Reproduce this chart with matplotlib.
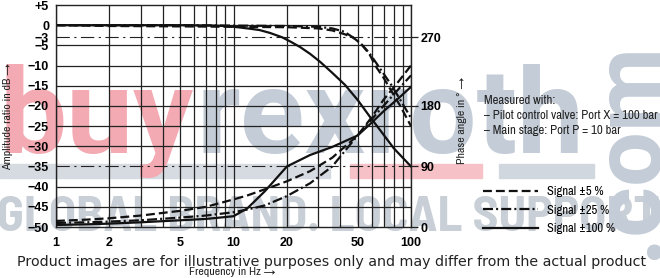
import matplotlib
matplotlib.use('Agg')
import matplotlib.pyplot as plt
import numpy as np
from matplotlib.ticker import NullFormatter

NARROW = 'Archivo Narrow'
WM_FONT = 'Roboto'
WM_FONT2 = 'Barlow Semi Condensed'
BOLD = 'Liberation Sans'

# amplitude curves (dB)
AMP_FREQ = [1, 2, 5, 10, 20, 30, 36, 42, 47, 52, 58, 64, 70, 78, 87, 100]
AMP_5 = [0, -0.2, -0.3, -0.4, -0.5, -0.8, -1.3, -2.2, -3, -4.5, -7, -10.5, -13, -16.5, -20, -25]
AMP_25 = [0, 0, 0, -0.1, -0.2, -0.4, -0.8, -1.6, -3, -4.5, -6.8, -9.5, -12, -15, -18.5, -23]
AMP_FREQ_100 = [1, 5, 8, 9.5, 11, 12.5, 14, 16, 18.8, 21, 23.7, 27, 30.8, 36, 42.5, 50, 58.7, 67, 80, 100]
AMP_100 = [0, 0, -0.1, -0.3, -0.6, -0.9, -1.2, -1.9, -3, -4.1, -5.4, -7.1, -9.1, -11.8, -14.8,
           -18.5, -22.7, -26, -30.5, -35]

# phase curves (degrees)
PH_FREQ = [1, 1.5, 2, 3, 5, 7, 10, 12, 15, 20, 27, 36, 50, 60, 70, 85, 100]
PH_5 = [9, 11, 13, 17, 24, 30, 41, 47, 56, 68, 83, 103, 136, 163, 188, 212, 233]
PH_25 = [6, 7, 8, 10, 14, 17, 22, 26, 32, 46, 65, 90, 136, 160, 180, 202, 220]
PH_100 = [3, 4, 5, 7, 10, 12, 16, 28, 53, 90, 107, 119, 136, 155, 172, 190, 205]

FREQ_TICKS = [1, 2, 5, 10, 20, 50, 100]
DB_TICKS = [5, 0, -3, -5, -10, -15, -20, -25, -30, -35, -40, -45, -50]
DB_LABELS = ['+5', '0', '\u22123', '\u22125', '\u221210', '\u221215', '\u221220', '\u221225',
             '\u221230', '\u221235', '\u221240', '\u221245', '\u221250']
DB_GRID = [0, -5, -10, -15, -20, -25, -30, -40, -45]
PH_TICKS = [0, 90, 180, 270]
# phase tick positions on the dB grid
PH_AT_DB = [-50, -35, -20, -3]

LABELS = ['Signal \u00b15 %', 'Signal \u00b125 %', 'Signal \u00b1100 %']


def ph_fwd(p):
    return np.interp(p, PH_TICKS + [360], PH_AT_DB + [14])


def ph_inv(d):
    return np.interp(d, PH_AT_DB + [14], PH_TICKS + [360])


fig = plt.figure(figsize=(6.6, 2.78), dpi=100)

# watermark
fig.patches.append(plt.Rectangle((0, 1 - 178 / 278), 330 / 660, 14 / 278, transform=fig.transFigure,
                                 color='#d6dbe1', zorder=-3))
fig.patches.append(plt.Rectangle((350 / 660, 1 - 178 / 278), 132 / 660, 14 / 278,
                                 transform=fig.transFigure, color='#f6c2c8', zorder=-3))
fig.patches.append(plt.Rectangle((499 / 660, 1 - 178 / 278), 95 / 660, 14 / 278,
                                 transform=fig.transFigure, color='#d0d7df', zorder=-3))
fig.text(0 / 660, 1 - 153 / 278, 'buy', color='#f3aab3', fontsize=86, fontweight='bold',
         family=WM_FONT, va='baseline', ha='left', zorder=-2)
fig.text(196 / 660, 1 - 153 / 278, 'rexroth', color='#c3ccd7', fontsize=86, fontweight='bold',
         family=WM_FONT, va='baseline', ha='left', zorder=-2)
fig.text(-3 / 660, 1 - 231 / 278, 'GLOBAL BRAND. LOCAL SUPPORT.', color='#c9cfd7', fontsize=36,
         fontweight='bold', family=WM_FONT2, va='baseline', ha='left', zorder=-2)
fig.text(630 / 660, 1 - 150 / 278, '.com', color='#c3ccd7', fontsize=70, fontweight='bold',
         family=WM_FONT, rotation=90, va='center', ha='center', zorder=-2)

ax = fig.add_axes([56 / 660, 1 - 227 / 278, 355 / 660, 222 / 278])
ax.set_facecolor('none')
ax.set_xscale('log')
ax.set_xlim(1, 100)
ax.set_ylim(-50, 5)
ax.set_xticks(FREQ_TICKS, [str(f) for f in FREQ_TICKS])
ax.xaxis.set_minor_formatter(NullFormatter())
ax.set_yticks(DB_TICKS, DB_LABELS)
ax.grid(which='both', axis='x', color='#222222', lw=0.9)
for d in DB_GRID:
    ax.axhline(d, color='#222222', lw=0.9, zorder=1)
for d in [-3, -35]:
    ax.axhline(d, color='#222222', lw=0.8, dashes=(12, 4, 2, 4), zorder=1)
ax.tick_params(which='both', length=0)
ax.tick_params(axis='y', pad=5)
ax.tick_params(axis='x', pad=7)
for lab in ax.get_xticklabels() + ax.get_yticklabels():
    lab.set_fontfamily(BOLD)
    lab.set_fontweight('bold')
    lab.set_fontsize(9)
for s in ax.spines.values():
    s.set_color('#222222')
    s.set_linewidth(1.0)

lw = 1.6
l1, = ax.plot(AMP_FREQ, AMP_5, color='#111111', lw=lw, dashes=(4, 1.8))
l2, = ax.plot(AMP_FREQ, AMP_25, color='#111111', lw=lw, dashes=(4.5, 1.4, 0.9, 1.4))
l3, = ax.plot(AMP_FREQ_100, AMP_100, color='#111111', lw=lw)

ax2 = ax.twinx()
ax2.set_facecolor('none')
ax2.set_yscale('function', functions=(ph_fwd, ph_inv))
ax2.set_ylim(0, float(ph_inv(5)))
ax2.set_yticks(PH_TICKS, [str(p) for p in PH_TICKS])
ax2.tick_params(axis='y', length=5, width=0.9, pad=2, color='#222222')
for lab in ax2.get_yticklabels():
    lab.set_fontfamily(BOLD)
    lab.set_fontweight('bold')
    lab.set_fontsize(9)
for s in ax2.spines.values():
    s.set_visible(False)
ax2.plot(PH_FREQ, PH_5, color='#111111', lw=lw, dashes=(4, 1.8))
ax2.plot(PH_FREQ, PH_25, color='#111111', lw=lw, dashes=(4.5, 1.4, 0.9, 1.4))
ax2.plot(PH_FREQ, PH_100, color='#111111', lw=lw)

# axis titles
fig.text(8 / 660, 1 - 117 / 278, 'Amplitude ratio in dB \u2192', rotation=90, ha='center',
         va='center', fontsize=8.5, family=[NARROW, 'DejaVu Sans'], color='#222222')
fig.text(462 / 660, 1 - 120 / 278, 'Phase angle in \u00b0 \u2192', rotation=90, ha='center',
         va='center', fontsize=8.5, family=[NARROW, 'DejaVu Sans'], color='#222222')
fig.text(232 / 660, 1 - 272 / 278, 'Frequency in Hz \u2192', ha='center', va='center',
         fontsize=8.5, family=[NARROW, 'DejaVu Sans'], color='#222222')

# notes
notes = ['Measured with:', '\u2013 Pilot control valve: Port X = 100 bar',
         '\u2013 Main stage: Port P = 10 bar']
for i, t in enumerate(notes):
    fig.text(484 / 660, 1 - (101 + 14.5 * i) / 278, t, ha='left', va='center', fontsize=9.2,
             family=NARROW, color='#222222')

ax.legend([l1, l2, l3], LABELS, loc='upper left', bbox_to_anchor=(483 / 660, 1 - 186 / 278),
          bbox_transform=fig.transFigure, frameon=False, handlelength=4.4, handletextpad=0.75,
          labelspacing=0.6, prop={'family': NARROW, 'size': 9}, borderpad=0, borderaxespad=0)

fig.text(332 / 660, 1 - 262 / 278,
         'Product images are for illustrative purposes only and may differ from the actual product',
         ha='center', va='center', fontsize=10.3, color='#222222')

fig.savefig('out.png', dpi=100)
